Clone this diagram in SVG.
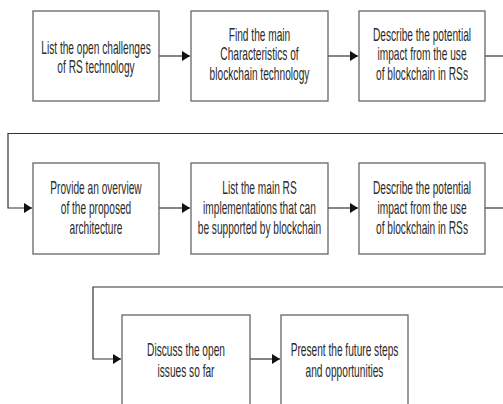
<svg xmlns="http://www.w3.org/2000/svg" width="503" height="404" viewBox="0 0 503 404">
  <style>
    .box{fill:#fff;stroke:#666;stroke-width:1.3}
    .lbl{font-family:"Liberation Sans",Arial,sans-serif;font-size:17.5px;fill:#2a2a2a;text-anchor:middle}
    .con{fill:none;stroke:#333;stroke-width:1.2}
  </style>
  <defs>
    <marker id="arr" markerUnits="userSpaceOnUse" markerWidth="9" markerHeight="10" refX="8" refY="5" orient="auto">
      <path d="M0,0 L8,5 L0,10 z" fill="#111"/>
    </marker>
  </defs>
  <rect width="503" height="404" fill="#fff"/>

  <g id="connectors">
    <path class="con" d="M159,56 H190" marker-end="url(#arr)"/>
    <path class="con" d="M328,56 H358" marker-end="url(#arr)"/>
    <path class="con" d="M485,56 H503"/>
    <path class="con" d="M503,133.5 H8 V208 H32" marker-end="url(#arr)"/>
    <path class="con" d="M159,208 H190" marker-end="url(#arr)"/>
    <path class="con" d="M328,208 H358" marker-end="url(#arr)"/>
    <path class="con" d="M485,208 H503"/>
    <path class="con" d="M503,287 H93 V359 H121" marker-end="url(#arr)"/>
    <path class="con" d="M250,359 H280" marker-end="url(#arr)"/>
  </g>

  <g id="n1">
    <rect class="box" x="33" y="11" width="126" height="90"/>
    <text class="lbl" transform="translate(96 0) scale(0.58 1)"><tspan x="0" y="54">List the open challenges</tspan><tspan x="0" y="73.5">of RS technology</tspan></text>
  </g>
  <g id="n2">
    <rect class="box" x="191" y="11" width="137" height="90"/>
    <text class="lbl" transform="translate(259.5 0) scale(0.58 1)"><tspan x="0" y="41">Find the main</tspan><tspan x="0" y="60.5">Characteristics of</tspan><tspan x="0" y="80">blockchain technology</tspan></text>
  </g>
  <g id="n3">
    <rect class="box" x="359" y="11" width="126" height="90"/>
    <text class="lbl" transform="translate(422 0) scale(0.58 1)"><tspan x="0" y="41">Describe the potential</tspan><tspan x="0" y="60.5">impact from the use</tspan><tspan x="0" y="80">of blockchain in RSs</tspan></text>
  </g>

  <g id="n4">
    <rect class="box" x="33" y="163" width="126" height="91"/>
    <text class="lbl" transform="translate(96 0) scale(0.58 1)"><tspan x="0" y="194.5">Provide an overview</tspan><tspan x="0" y="214.5">of the proposed</tspan><tspan x="0" y="234.5">architecture</tspan></text>
  </g>
  <g id="n5">
    <rect class="box" x="191" y="163" width="137" height="91"/>
    <text class="lbl" transform="translate(259.5 0) scale(0.58 1)"><tspan x="0" y="194.5">List the main RS</tspan><tspan x="0" y="214.5">implementations that can</tspan><tspan x="0" y="234.5">be supported by blockchain</tspan></text>
  </g>
  <g id="n6">
    <rect class="box" x="359" y="163" width="126" height="91"/>
    <text class="lbl" transform="translate(422 0) scale(0.58 1)"><tspan x="0" y="194.5">Describe the potential</tspan><tspan x="0" y="214.5">impact from the use</tspan><tspan x="0" y="234.5">of blockchain in RSs</tspan></text>
  </g>

  <g id="n7">
    <rect class="box" x="122" y="315" width="128" height="95"/>
    <text class="lbl" transform="translate(186 0) scale(0.58 1)"><tspan x="0" y="356">Discuss the open</tspan><tspan x="0" y="377">issues so far</tspan></text>
  </g>
  <g id="n8">
    <rect class="box" x="281" y="315" width="127" height="95"/>
    <text class="lbl" transform="translate(344.5 0) scale(0.58 1)"><tspan x="0" y="356">Present the future steps</tspan><tspan x="0" y="377">and opportunities</tspan></text>
  </g>
</svg>
